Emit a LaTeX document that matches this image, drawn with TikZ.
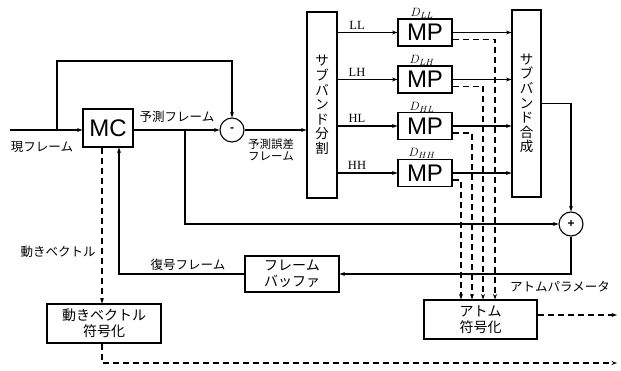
\documentclass[tikz,border=0pt]{standalone}
\usepackage{fontspec}
\setmainfont{Liberation Serif}
\newfontfamily\jp{Noto Sans CJK JP}
\newfontfamily\arl{Liberation Sans}
\usetikzlibrary{arrows.meta,calc}
\begin{document}
\begin{tikzpicture}[x=1pt,y=-1pt,
 line width=1.1pt,
 arr/.style={-{Stealth[length=5.5pt,width=4pt]}},
 dsh/.style={dash pattern=on 6pt off 4pt},
 box/.style={draw, inner sep=0pt, align=center},
 blk/.style={box, font=\arl\fontsize{24}{24}\selectfont},
 btxt/.style={box, font=\jp\fontsize{14}{16}\selectfont},
 vtxt/.style={box, font=\jp\fontsize{13.5}{14.6}\selectfont},
 lab/.style={font=\jp\fontsize{12.5}{13}\selectfont, inner sep=1pt, align=center},
 bnd/.style={font=\fontsize{12.5}{12}\selectfont, inner sep=1pt},
 dl/.style={font=\fontsize{13}{13}\selectfont, inner sep=1pt},
 sum/.style={draw, circle, minimum size=24pt, inner sep=0pt, font=\arl\bfseries\fontsize{12}{12}\selectfont}
 ]
\useasboundingbox (0,0) rectangle (621,371);

% blocks
\node[blk, minimum width=50pt, minimum height=38pt] (mc) at (108,128) {MC};
\node[sum] (minus) at (232,130) {-};
\node[vtxt, minimum width=30pt, minimum height=186pt] (split) at (322,105) {サ\\ブ\\バ\\ン\\ド\\分\\割};
\node[blk, minimum width=54pt, minimum height=27pt] (mpLL) at (425,32.5) {MP};
\node[blk, minimum width=54pt, minimum height=27pt] (mpLH) at (425,79.5) {MP};
\node[blk, minimum width=54pt, minimum height=27pt] (mpHL) at (425,126) {MP};
\node[blk, minimum width=54pt, minimum height=27pt] (mpHH) at (425,173) {MP};
\node[vtxt, minimum width=29pt, minimum height=187pt] (synth) at (526.5,103.5) {サ\\ブ\\バ\\ン\\ド\\合\\成};
\node[sum] (plus) at (571,224) {+};
\node[btxt, minimum width=94pt, minimum height=36pt] (fb) at (292,274) {フレーム\\バッファ};
\node[btxt, minimum width=114pt, minimum height=39pt] (mv) at (104,323.5) {動きベクトル\\符号化};
\node[btxt, minimum width=113pt, minimum height=39pt] (atom) at (480.5,319.5) {アトム\\符号化};

% labels
\node[lab] at (42,147) {現フレーム};
\node[lab] at (177,117) {予測フレーム};
\node[lab, font=\jp\fontsize{11.5}{12.5}\selectfont] at (271,150) {予測誤差\\フレーム};
\node[bnd] at (357,25) {LL};
\node[bnd] at (357,72) {LH};
\node[bnd] at (357,118) {HL};
\node[bnd] at (357,165) {HH};
\node[dl] at (422,13) {$D_{LL}$};
\node[dl] at (422,60) {$D_{LH}$};
\node[dl] at (422,107) {$D_{HL}$};
\node[dl] at (422,153) {$D_{HH}$};
\node[lab] at (58,252) {動きベクトル};
\node[lab] at (188,265) {復号フレーム};
\node[lab] at (560,287) {アトムパラメータ};

% coordinates
\coordinate (in) at (10,130);
\coordinate (b1) at (57,130);
\coordinate (tl) at (57,61);
\coordinate (b2) at (185,130);
\coordinate (dx1) at (495,0);
\coordinate (dx2) at (483,0);
\coordinate (dx3) at (472,0);
\coordinate (dx4) at (461,0);
\coordinate (mcd) at ($(mc.south)+(-6,0)$);
\coordinate (mcu) at ($(mc.south)+(11,0)$);
\coordinate (mvd) at ($(mv.south)+(-2,0)$);
\coordinate (endB) at (617,363);
\coordinate (endA) at (617,315);

% solid connectors
\draw[arr] (in) -- (in -| mc.west);
\draw[arr] (b1) -- (tl) -| (minus.north);
\draw[arr] (mc.east |- minus.west) -- (minus.west);
\draw[arr] (minus.east) -- (minus.east -| split.west);
\draw[arr] (b2) |- (plus.west);
\foreach \n in {LL,LH,HL,HH}{
  \draw[arr] (split.east |- mp\n.west) -- (mp\n.west);
  \draw[arr] (mp\n.east) -- (mp\n.east -| synth.west);
}
\draw[arr] (synth.east) -| (plus.north);
\draw[arr] (plus.south) |- (fb.east);
\draw[arr] (fb.west) -| (mcu);

% dashed connectors
\draw[arr,dsh] ($(mpLL.east)+(0,7)$) -| (dx1 |- atom.north);
\draw[arr,dsh] ($(mpLH.east)+(0,7)$) -| (dx2 |- atom.north);
\draw[arr,dsh] ($(mpHL.east)+(0,7)$) -| (dx3 |- atom.north);
\draw[arr,dsh] ($(mpHH.east)+(0,7)$) -| (dx4 |- atom.north);
\draw[arr,dsh] (mcd) -- (mcd |- mv.north);
\draw[arr,dsh] (mvd) |- (endB);
\draw[arr,dsh] (atom.east |- endA) -- (endA);
\end{tikzpicture}
\end{document}
